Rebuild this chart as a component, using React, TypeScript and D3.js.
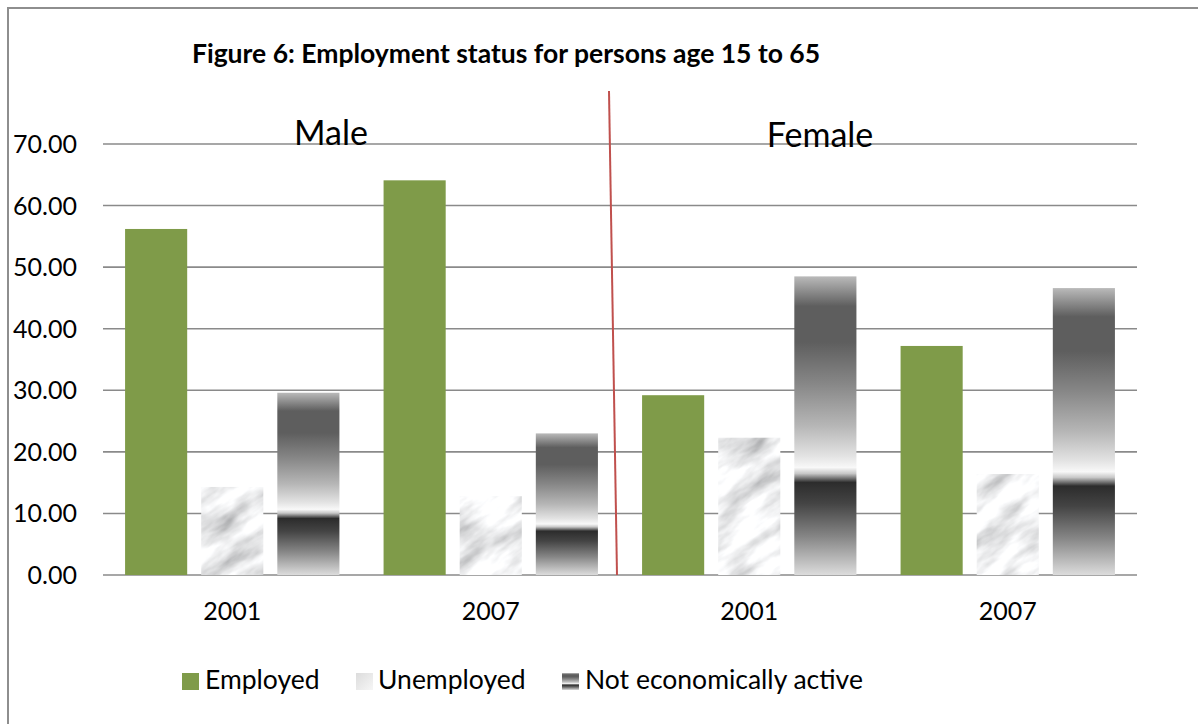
import React from "react";
import * as d3 from "d3";

const groupKeys = ["Male-2001", "Male-2007", "Female-2001", "Female-2007"];
const groupLabels = ["2001", "2007", "2001", "2007"];
const sexLabels = ["Male", "Female"];
const seriesNames = ["Employed", "Unemployed", "Not economically active"];
const employed = [56.2, 64.1, 29.2, 37.2];
const unemployed = [14.3, 12.8, 22.3, 16.4];
const notActive = [29.6, 23.0, 48.5, 46.6];
const yTicks = [0, 10, 20, 30, 40, 50, 60, 70];
const title = "Figure 6: Employment status for persons age 15 to 65";

const W = 1198;
const H = 724;
const FONT = "Lato, 'Open Sans', sans-serif";

export default function App() {
  const x0 = d3.scaleBand<string>().domain(groupKeys).range([103, 1137]).paddingInner(0).paddingOuter(0);
  const x1 = d3
    .scaleBand<string>()
    .domain(seriesNames)
    .range([0, x0.bandwidth()])
    .paddingInner(0.184)
    .paddingOuter(0.29);
  const y = d3.scaleLinear().domain([0, 70]).range([575, 144]);

  const seriesValues = [employed, unemployed, notActive];
  const fills = ["#7f9b49", "url(#marble)", "url(#neaGrad)"];

  const bars: { key: string; x: number; y: number; w: number; h: number; fill: string }[] = [];
  groupKeys.forEach((g, gi) => {
    seriesNames.forEach((s, si) => {
      const v = seriesValues[si][gi];
      bars.push({
        key: g + s,
        x: (x0(g) as number) + (x1(s) as number),
        y: y(v),
        w: x1.bandwidth(),
        h: y(0) - y(v),
        fill: fills[si],
      });
    });
  });

  const neaStops: [number, string][] = [
    [0, "#bababa"],
    [0.1, "#5e5e5e"],
    [0.22, "#5e5e5e"],
    [0.36, "#878787"],
    [0.5, "#b6b6b6"],
    [0.6, "#e2e2e2"],
    [0.64, "#f8f8f8"],
    [0.66, "#c8c8c8"],
    [0.69, "#2c2c2c"],
    [0.76, "#444444"],
    [0.87, "#858585"],
    [1, "#dcdcdc"],
  ];

  const legendItems = [
    { label: seriesNames[0], sx: 182, tx: 205, fill: "#7f9b49" },
    { label: seriesNames[1], sx: 356, tx: 378, fill: "url(#legUnemp)" },
    { label: seriesNames[2], sx: 562, tx: 585, fill: "url(#neaGrad)" },
  ];

  return (
    <svg
      width={W}
      height={H}
      style={{ position: "absolute", left: 0, top: 0, background: "#fff" }}
      fontFamily={FONT}
    >
      <defs>
        <linearGradient id="neaGrad" x1="0" y1="0" x2="0" y2="1">
          {neaStops.map(([o, c]) => (
            <stop key={o} offset={o} stopColor={c} />
          ))}
        </linearGradient>
        <linearGradient id="legUnemp" x1="0" y1="0" x2="1" y2="1">
          <stop offset="0" stopColor="#dcdcdc" />
          <stop offset="1" stopColor="#f6f6f6" />
        </linearGradient>
        <filter id="marbleFilter" x="0" y="0" width="100%" height="100%">
          <feTurbulence type="fractalNoise" baseFrequency="0.022 0.06" numOctaves="4" seed="11" stitchTiles="stitch" />
          <feColorMatrix
            type="matrix"
            values="1.0 0 0 0 0.36  1.0 0 0 0 0.365  1.0 0 0 0 0.375  0 0 0 0 1"
          />
        </filter>
        <pattern id="marble" patternUnits="userSpaceOnUse" width="240" height="240" patternTransform="rotate(-35)">
          <rect width="240" height="240" fill="#eee" filter="url(#marbleFilter)" />
        </pattern>
      </defs>

      {/* outer border */}
      <rect x={8} y={8} width={1300} height={800} fill="none" stroke="#8e8e8e" strokeWidth={2} />

      {/* gridlines */}
      {yTicks.map((t) => (
        <line key={t} x1={103} x2={1137} y1={y(t)} y2={y(t)} stroke="#8a8a8a" strokeWidth={1.6} />
      ))}

      {/* y labels */}
      {yTicks.map((t) => (
        <text key={t} x={77} y={y(t)} dy="0.36em" textAnchor="end" fontSize={25} fill="#000">
          {t.toFixed(2)}
        </text>
      ))}

      {/* bars */}
      {bars.map((b) => (
        <rect key={b.key} x={b.x} y={b.y} width={b.w} height={b.h} fill={b.fill} />
      ))}

      {/* category labels */}
      {groupKeys.map((g, i) => (
        <text
          key={g}
          x={(x0(g) as number) + x0.bandwidth() / 2}
          y={620}
          textAnchor="middle"
          fontSize={25}
          fill="#000"
        >
          {groupLabels[i]}
        </text>
      ))}

      {/* divider */}
      <line x1={609} y1={91} x2={617} y2={575} stroke="#c0504d" strokeWidth={2} />

      {/* sex labels */}
      <text x={331} y={145} textAnchor="middle" fontSize={34} fill="#000">
        {sexLabels[0]}
      </text>
      <text x={820} y={147} textAnchor="middle" fontSize={34} fill="#000">
        {sexLabels[1]}
      </text>

      {/* title */}
      <text x={506} y={63} textAnchor="middle" fontSize={26.5} fontWeight="bold" fill="#000">
        {title}
      </text>

      {/* legend */}
      {legendItems.map((l) => (
        <g key={l.label}>
          <rect x={l.sx} y={673} width={17} height={17} fill={l.fill} />
          <text x={l.tx} y={689} fontSize={26.5} fill="#000">
            {l.label}
          </text>
        </g>
      ))}
    </svg>
  );
}
